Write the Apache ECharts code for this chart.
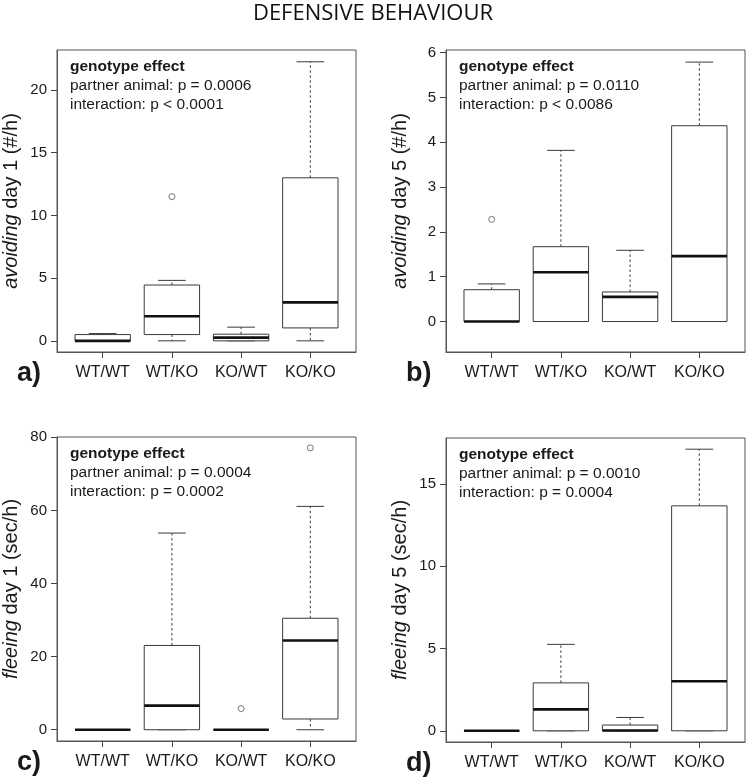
<!DOCTYPE html>
<html><head><meta charset="utf-8">
<script src="https://cdn.jsdelivr.net/npm/echarts@6/dist/echarts.min.js"></script>
<style>html,body{margin:0;padding:0;background:#fff}#c{width:746px;height:783px}</style>
</head><body><div id="c"></div>
<script>
const categories = ['WT/WT', 'WT/KO', 'KO/WT', 'KO/KO'];
// box statistics per group: [min, q1, median, q3, max]
const avoidDay1Box = [[0, 0, 0, 0.5, 0.58], [0, 0.5, 1.96, 4.45, 4.82], [0, 0, 0.26, 0.53, 1.09], [0, 1.03, 3.07, 13.0, 22.25]];
const avoidDay1Out = [[2, 11.5]];
const avoidDay5Box = [[0, 0, 0, 0.71, 0.84], [0, 0, 1.10, 1.67, 3.82], [0, 0, 0.55, 0.66, 1.59], [0, 0, 1.46, 4.37, 5.79]];
const avoidDay5Out = [[1, 2.28]];
const fleeDay1Box = [[0, 0, 0, 0, 0], [0, 0, 6.6, 23.05, 53.8], [0, 0, 0, 0, 0], [0, 2.94, 24.4, 30.5, 61.1]];
const fleeDay1Out = [[3, 5.8], [4, 77.1]];
const fleeDay5Box = [[0, 0, 0, 0, 0], [0, 0, 1.30, 2.91, 5.25], [0, 0, 0.02, 0.35, 0.81], [0, 0, 3.01, 13.66, 17.1]];
const fleeDay5Out = [];
const yTicksA = [0, 5, 10, 15, 20];
const yTicksB = [0, 1, 2, 3, 4, 5, 6];
const yTicksC = [0, 20, 40, 60, 80];
const yTicksD = [0, 5, 10, 15];
const statsA = ['genotype effect', 'partner animal: p = 0.0006', 'interaction: p < 0.0001'];
const statsB = ['genotype effect', 'partner animal: p = 0.0110', 'interaction: p < 0.0086'];
const statsC = ['genotype effect', 'partner animal: p = 0.0004', 'interaction: p = 0.0002'];
const statsD = ['genotype effect', 'partner animal: p = 0.0010', 'interaction: p = 0.0004'];

const FONT = 'Liberation Sans, Arial, sans-serif';
const TXT = '#1a1a1a';
const LINE = '#3a3a3a';

const panels = [
  {box: avoidDay1Box, out: avoidDay1Out, ticks: yTicksA, min: -0.89, max: 23.19, name: '{i|avoiding} day 1 (#/h)', grid: {left: 57, top: 50, width: 299, height: 302}, stats: statsA, label: 'a)'},
  {box: avoidDay5Box, out: avoidDay5Out, ticks: yTicksB, min: -0.68, max: 6.06, name: '{i|avoiding} day 5 (#/h)', grid: {left: 446, top: 50, width: 299, height: 302}, stats: statsB, label: 'b)'},
  {box: fleeDay1Box, out: fleeDay1Out, ticks: yTicksC, min: -3.08, max: 80.08, name: '{i|fleeing} day 1 (sec/h)', grid: {left: 57, top: 437, width: 299, height: 304}, stats: statsC, label: 'c)'},
  {box: fleeDay5Box, out: fleeDay5Out, ticks: yTicksD, min: -0.68, max: 17.78, name: '{i|fleeing} day 5 (sec/h)', grid: {left: 446, top: 438, width: 299, height: 304}, stats: statsD, label: 'd)'}
];

function renderBox(params, api) {
  const x = api.value(0);
  const vals = [1, 2, 3, 4, 5].map(d => api.coord([x, api.value(d)])[1]);
  const [yMin, yQ1, yMed, yQ3, yMax] = vals;
  const cx = api.coord([x, 0])[0];
  const bw = api.size([0.8, 0])[0];
  const cw = bw / 2;
  const base = {stroke: LINE, lineWidth: 1};
  const dash = {stroke: LINE, lineWidth: 1, lineDash: [2.5, 2.5]};
  const children = [];
  if (yMax < yQ3) children.push({type: 'line', shape: {x1: cx, y1: yQ3, x2: cx, y2: yMax}, style: dash});
  if (yMin > yQ1) children.push({type: 'line', shape: {x1: cx, y1: yQ1, x2: cx, y2: yMin}, style: dash});
  children.push({type: 'line', shape: {x1: cx - cw / 2, y1: yMax, x2: cx + cw / 2, y2: yMax}, style: base});
  children.push({type: 'line', shape: {x1: cx - cw / 2, y1: yMin, x2: cx + cw / 2, y2: yMin}, style: base});
  children.push({type: 'rect', shape: {x: cx - bw / 2, y: yQ3, width: bw, height: Math.max(yQ1 - yQ3, 0)}, style: {fill: '#fff', stroke: LINE, lineWidth: 1}});
  children.push({type: 'line', shape: {x1: cx - bw / 2, y1: yMed, x2: cx + bw / 2, y2: yMed}, style: {stroke: '#111', lineWidth: 2.6}});
  return {type: 'group', children};
}

const grids = [], xAxes = [], yAxes = [], series = [], graphics = [];
panels.forEach((p, i) => {
  grids.push(Object.assign({show: true, borderColor: '#555', borderWidth: 1, backgroundColor: 'transparent'}, p.grid));
  xAxes.push({
    gridIndex: i, type: 'value', min: 0.34, max: 4.66,
    axisLine: {show: true, onZero: false, lineStyle: {color: '#555'}},
    splitLine: {show: false},
    axisTick: {show: true, customValues: [1, 2, 3, 4], length: 6, lineStyle: {color: '#444'}},
    axisLabel: {customValues: [1, 2, 3, 4], formatter: v => categories[Math.round(v) - 1], fontSize: 16, color: TXT, fontFamily: FONT, margin: 13}
  });
  yAxes.push({
    gridIndex: i, type: 'value', min: p.min, max: p.max,
    axisLine: {show: true, onZero: false, lineStyle: {color: '#555'}},
    splitLine: {show: false},
    axisTick: {show: true, customValues: p.ticks, length: 6, lineStyle: {color: '#444'}},
    axisLabel: {customValues: p.ticks, fontSize: 15, color: TXT, fontFamily: FONT, margin: 10},
    name: p.name, nameLocation: 'middle', nameRotate: 90, nameGap: 36,
    nameTextStyle: {fontSize: 20, color: TXT, fontFamily: FONT, rich: {i: {fontStyle: 'italic', fontSize: 20, color: TXT, fontFamily: FONT}}}
  });
  series.push({
    type: 'custom', xAxisIndex: i, yAxisIndex: i,
    data: p.box.map((s, k) => [k + 1].concat(s)),
    encode: {x: 0, y: [1, 2, 3, 4, 5]},
    renderItem: renderBox, silent: true
  });
  series.push({
    type: 'scatter', xAxisIndex: i, yAxisIndex: i, z: 5,
    data: p.out, symbol: 'circle', symbolSize: 6,
    itemStyle: {color: '#fff', borderColor: '#555', borderWidth: 1}, silent: true
  });
  const tx = p.grid.left + 13, ty = p.grid.top + 17;
  p.stats.forEach((t, k) => {
    graphics.push({type: 'text', x: tx, y: ty + k * 19, style: {text: t, font: (k === 0 ? 'bold ' : '') + '15.5px ' + FONT, fill: TXT, verticalAlign: 'middle'}});
  });
  graphics.push({type: 'text', x: p.grid.left - 40, y: p.grid.top + p.grid.height + 22, style: {text: p.label, font: 'bold 27px ' + FONT, fill: TXT, verticalAlign: 'middle'}});
});
graphics.push({type: 'text', x: 373, y: 14, style: {text: 'DEFENSIVE BEHAVIOUR', font: '22px Open Sans, sans-serif', fill: '#111', align: 'center', verticalAlign: 'middle'}});

const chart = echarts.init(document.getElementById('c'), null, {renderer: 'canvas'});
chart.setOption({
  animation: false, backgroundColor: '#fff',
  grid: grids, xAxis: xAxes, yAxis: yAxes, series: series, graphic: graphics
});
</script></body></html>
